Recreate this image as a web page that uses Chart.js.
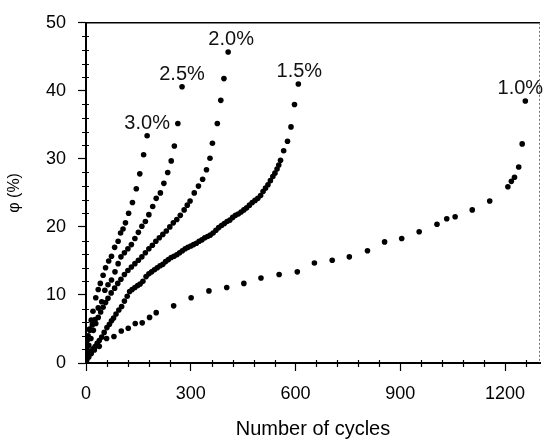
<!DOCTYPE html>
<html>
<head>
<meta charset="utf-8">
<script src="https://cdn.jsdelivr.net/npm/chart.js@4"></script>
<style>
  html, body { margin: 0; padding: 0; background: #fff; }
  canvas { display: block; }
</style>
</head>
<body>
<canvas id="cyclesChart" width="544" height="445"></canvas>
<script>
// strain amplitude of each series
var strainLabels = ['3.0%', '2.5%', '2.0%', '1.5%', '1.0%'];

// [cycles, phi %]
var strain30 = [[0,0.5],[3,2.0],[6,3.5],[10,5.0],[15,6.3],[20,7.6],[28,9.6],[35,10.8],[41,11.7],[49,12.9],[56,14.0],[65,15.0],[73,15.7],[82,17.0],[92,17.9],[99,19.1],[106,19.7],[113,20.6],[122,22.0],[133,23.6],[144,25.6],[154,27.8],[165,30.6],[175,33.4]];

var strain25 = [[0,0.3],[2,2.8],[6,4.0],[11,4.8],[18,5.6],[26,6.4],[35,8.1],[45,9.0],[54,10.7],[63,11.5],[73,12.2],[83,13.4],[92,14.6],[100,15.6],[110,16.2],[120,16.8],[130,17.4],[140,18.3],[150,19.2],[160,20.1],[170,20.8],[180,21.8],[191,23.0],[201,24.2],[213,25.0],[223,26.4],[234,28.0],[244,29.7],[253,31.9],[263,35.2],[275,40.6]];

var strain20 = [[0,0.3],[4,1.5],[8,2.6],[14,3.6],[21,4.8],[28,5.8],[35,6.7],[42,7.5],[49,8.2],[56,8.9],[63,9.5],[72,10.3],[82,11.0],[91,11.7],[100,12.3],[110,13.0],[120,13.6],[130,14.1],[140,14.6],[150,15.1],[160,15.6],[170,16.2],[180,16.8],[190,17.3],[200,17.9],[210,18.4],[220,18.9],[230,19.4],[240,20.0],[250,20.6],[260,21.1],[270,21.7],[281,22.5],[290,23.2],[298,23.8],[310,25.0],[322,26.0],[334,27.0],[345,28.4],[355,30.1],[362,32.3],[376,35.2],[386,38.6],[395,41.8],[407,45.7]];

var strain15 = [[0,0.2],[4,0.8],[9,1.3],[14,1.7],[20,2.1],[26,2.4],[32,2.9],[38,3.3],[45,3.8],[52,4.5],[60,5.2],[67,5.7],[73,6.2],[79,6.6],[86,7.2],[94,7.8],[102,8.3],[110,9.1],[118,9.8],[125,10.5],[132,10.8],[140,11.1],[148,11.4],[155,11.6],[163,12.0],[172,12.7],[180,13.1],[188,13.4],[196,13.7],[204,14.0],[212,14.3],[220,14.5],[228,14.9],[236,15.2],[244,15.5],[252,15.7],[260,15.9],[268,16.2],[276,16.5],[284,16.8],[292,17.0],[300,17.2],[308,17.4],[316,17.6],[324,17.9],[332,18.1],[340,18.4],[348,18.6],[356,18.8],[364,19.1],[372,19.5],[380,19.9],[388,20.2],[396,20.5],[404,20.8],[412,21.0],[420,21.4],[428,21.7],[436,21.9],[444,22.2],[452,22.5],[460,22.8],[468,23.2],[476,23.6],[484,23.9],[492,24.2],[500,24.6],[507,25.2],[514,25.7],[521,26.2],[528,26.8],[535,27.4],[541,27.9],[547,28.5],[552,29.1],[557,29.8],[566,31.2],[577,32.6],[587,34.7],[597,38.0],[608,41.0]];

var strain10 = [[2,0.4],[8,0.9],[15,1.4],[24,1.9],[38,2.45],[59,3.6],[80,3.9],[101,4.7],[121,5.1],[141,5.8],[161,5.9],[182,6.7],[201,7.4],[251,8.4],[301,9.6],[352,10.6],[403,11.1],[452,11.7],[501,12.5],[553,13.0],[605,13.4],[654,14.7],[705,15.1],[754,15.6],[806,16.5],[855,17.8],[904,18.3],[954,19.3],[1005,20.4],[1033,21.2],[1057,21.5],[1106,22.5],[1156,23.8],[1208,25.9],[1218,26.7],[1227,27.3],[1239,28.8],[1249,32.2],[1258,38.5]];

// x shift of each end label relative to the last point
var labelShift = [0, 0, 3, 1, -5];

var allSeries = [strain30, strain25, strain20, strain15, strain10];

function toPoints(arr) {
  return arr.map(function (p) { return { x: p[0], y: p[1] }; });
}

var FONT = "'Liberation Sans', Arial, sans-serif";

// minor ticks, frame and strain labels at the end of each curve
var decorations = {
  id: 'decorations',
  afterDraw: function (chart) {
    var ctx = chart.ctx;
    var a = chart.chartArea;
    var xs = chart.scales.x, ys = chart.scales.y;
    ctx.save();
    ctx.strokeStyle = '#000';
    ctx.lineWidth = 1.2;
    ctx.beginPath();
    for (var v = 2; v < 50; v += 2) {
      if (v % 10 === 0) continue;
      var py = Math.round(ys.getPixelForValue(v)) + 0.5;
      ctx.moveTo(a.left - 4, py);
      ctx.lineTo(a.left + 3, py);
    }
    for (var c = 60; c <= 1300; c += 60) {
      if (c % 300 === 0) continue;
      var px = Math.round(xs.getPixelForValue(c)) + 0.5;
      ctx.moveTo(px, a.bottom - 3);
      ctx.lineTo(px, a.bottom + 4);
    }
    ctx.stroke();

    // top edge
    ctx.lineWidth = 1.5;
    ctx.beginPath();
    ctx.moveTo(a.left, a.top);
    ctx.lineTo(a.right, a.top);
    ctx.stroke();
    // right edge
    ctx.strokeStyle = '#777';
    ctx.lineWidth = 1;
    ctx.setLineDash([2, 2]);
    ctx.beginPath();
    ctx.moveTo(a.right - 0.5, a.top);
    ctx.lineTo(a.right - 0.5, a.bottom);
    ctx.stroke();
    ctx.setLineDash([]);

    ctx.fillStyle = '#111';
    ctx.font = '20px ' + FONT;
    ctx.textAlign = 'center';
    ctx.textBaseline = 'alphabetic';
    allSeries.forEach(function (s, i) {
      var last = s[s.length - 1];
      var lx = xs.getPixelForValue(last[0]) + labelShift[i];
      var ly = ys.getPixelForValue(last[1]) - 7;
      ctx.fillText(strainLabels[i], lx, ly);
    });
    ctx.restore();
  }
};

var ctx = document.getElementById('cyclesChart');
var cyclesChart = new Chart(ctx, {
  type: 'scatter',
  data: {
    datasets: allSeries.map(function (s, i) {
      return {
        label: strainLabels[i],
        data: toPoints(s),
        pointRadius: 2.8,
        pointBackgroundColor: '#000',
        pointBorderWidth: 0,
        showLine: false
      };
    })
  },
  options: {
    responsive: false,
    animation: false,
    devicePixelRatio: 1,
    layout: { padding: { top: 16, right: 1, left: 0, bottom: 0 } },
    plugins: {
      legend: { display: false },
      tooltip: { enabled: false }
    },
    scales: {
      x: {
        type: 'linear',
        min: 0,
        max: 1300,
        afterFit: function (scale) { scale.height = 82; },
        border: { color: '#000', width: 2 },
        grid: { drawOnChartArea: false, tickLength: 8, tickColor: '#000', tickWidth: 1.2 },
        ticks: { stepSize: 300, includeBounds: false, color: '#000', padding: 12, maxRotation: 0,
                 callback: function (v) { return String(v); },
                 font: { family: FONT, size: 18 } },
        title: { display: true, text: 'Number of cycles', color: '#000',
                 font: { family: FONT, size: 20 }, padding: { top: 0, bottom: 4 } }
      },
      y: {
        type: 'linear',
        min: 0,
        max: 50,
        afterFit: function (scale) { scale.width = 86; },
        border: { color: '#000', width: 2 },
        grid: { drawOnChartArea: false, tickLength: 8, tickColor: '#000', tickWidth: 1.2 },
        ticks: { stepSize: 10, color: '#000', padding: 12,
                 font: { family: FONT, size: 18 } },
        title: { display: true, text: 'φ (%)', color: '#000',
                 font: { family: FONT, size: 16 }, padding: { top: 5, bottom: 0 } }
      }
    }
  },
  plugins: [decorations]
});
</script>
</body>
</html>
